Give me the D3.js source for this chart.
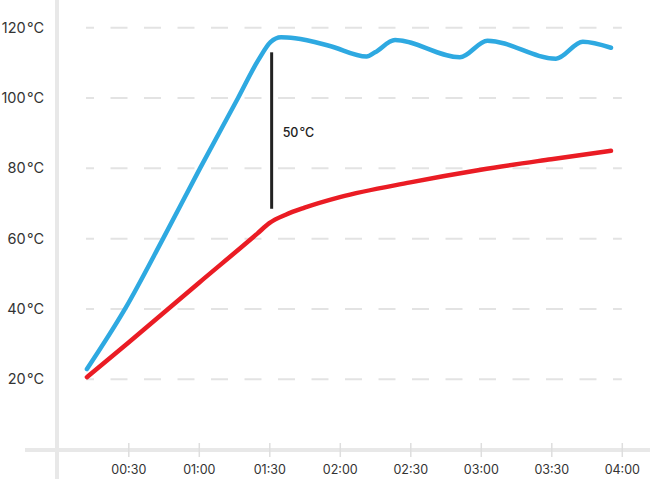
<!DOCTYPE html>
<html><head><meta charset="utf-8">
<script src="https://cdn.jsdelivr.net/npm/d3@7/dist/d3.min.js"></script>
<style>
html,body{margin:0;padding:0;background:#fff;}
svg{display:block;font-family:"Inter","Noto Sans",sans-serif;}
</style></head>
<body><svg id="c" width="650" height="479"></svg>
<script>
// ---- data (time in minutes, temperature in °C) ----
const xTicks = [30, 60, 90, 120, 150, 180, 210, 240];
const xTickLabels = ["00:30","01:00","01:30","02:00","02:30","03:00","03:30","04:00"];
const yTicks = [20, 40, 60, 80, 100, 120];
const yTickLabels = ["20\u200A°C","40\u200A°C","60\u200A°C","80\u200A°C","100\u200A°C","120\u200A°C"];

const blueTimes  = [12.4, 28.6, 44.8, 60.5, 76.7, 85.5, 90.5, 95,    101,   115.8, 131.4, 135, 143.5, 171.1, 182.8, 212.0, 223.4, 235.4];
const blueValues = [22.9, 40,   60,   80,   100,  111,  115.9, 117.3, 117.0, 114.8, 111.8, 113, 116.5, 111.6, 116.3, 111.2, 116.0, 114.3];

const redTimes  = [12.4, 30,   60,   85,   90,   97,   105,  120,  150,  180,  210,  235.4];
const redValues = [20.6, 30.4, 47.4, 61.5, 64.4, 66.8, 68.8, 71.8, 76.0, 79.6, 82.6, 85.0];

const annotTime = 91;
const annotTop = 113;
const annotBottom = 68.5;
const annotLabel = "50\u200A°C";

// ---- chart ----
const svg = d3.select("#c");
const x = d3.scaleLinear().domain([0, 240]).range([57.8, 621.8]);
const y = d3.scaleLinear().domain([0, 120]).range([449.6, 27.7]);

// gridlines
svg.append("g").selectAll("line").data(yTicks).join("line")
  .attr("x1", 86).attr("x2", x(240))
  .attr("y1", d => y(d)).attr("y2", d => y(d))
  .attr("stroke", "#e3e3e3").attr("stroke-width", 2)
  .attr("stroke-dasharray", "17 16.5").attr("stroke-dashoffset", 9);

// x axis base line
svg.append("line").attr("x1", 25).attr("x2", 650).attr("y1", 450).attr("y2", 450)
  .attr("stroke", "#e8e8e8").attr("stroke-width", 4);

// y axis line
svg.append("line").attr("x1", 57).attr("x2", 57).attr("y1", 0).attr("y2", 479)
  .attr("stroke", "#e8e8e8").attr("stroke-width", 4);

// y labels
svg.append("g").selectAll("text").data(yTicks).join("text")
  .attr("x", 44).attr("y", d => y(d)).attr("dy", "0.35em")
  .attr("text-anchor", "end").attr("font-size", 14.5).attr("fill", "#333")
  .text((d, i) => yTickLabels[i]);

// x axis
const xAxis = d3.axisBottom(x).tickValues(xTicks)
  .tickFormat((d, i) => xTickLabels[i]).tickSize(7).tickPadding(8);
const gx = svg.append("g").attr("transform", "translate(0,450)").call(xAxis);
gx.select(".domain").remove();
gx.selectAll(".tick line").attr("y1", -7).attr("stroke", "#dedede").attr("stroke-width", 1.5);
gx.selectAll(".tick text").attr("font-size", 12.5).attr("fill", "#333")
  .attr("font-family", "Inter, 'Noto Sans', sans-serif");

// lines
const line = d3.line().x(d => x(d[0])).y(d => y(d[1])).curve(d3.curveMonotoneX);
svg.append("path").datum(redTimes.map((t, i) => [t, redValues[i]]))
  .attr("d", line).attr("fill", "none").attr("stroke", "#ea1c24")
  .attr("stroke-width", 4.5).attr("stroke-linecap", "round").attr("stroke-linejoin", "round");
svg.append("path").datum(blueTimes.map((t, i) => [t, blueValues[i]]))
  .attr("d", line).attr("fill", "none").attr("stroke", "#2ea9e1")
  .attr("stroke-width", 4.5).attr("stroke-linecap", "round").attr("stroke-linejoin", "round");

// annotation
svg.append("line").attr("x1", x(annotTime)).attr("x2", x(annotTime))
  .attr("y1", y(annotTop)).attr("y2", y(annotBottom))
  .attr("stroke", "#222").attr("stroke-width", 3);
svg.append("text").attr("x", x(annotTime) + 11).attr("y", y((annotTop + annotBottom) / 2) + 2)
  .attr("dy", "0.35em").attr("font-size", 12.5).attr("font-weight", 500).attr("fill", "#222").text(annotLabel);
</script></body></html>
